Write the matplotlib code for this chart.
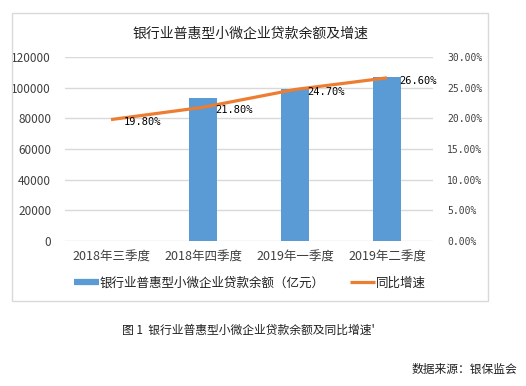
import numpy as np
import matplotlib
matplotlib.use("Agg")
import matplotlib.pyplot as plt
from matplotlib.lines import Line2D
from matplotlib.patches import Rectangle

plt.rcParams['font.family'] = ['Noto Sans CJK SC', 'DejaVu Sans']

# data
quarters = ['2018年三季度', '2018年四季度', '2019年一季度', '2019年二季度']
balance = [np.nan, 93300, 99200, 106700]   # 亿元, first quarter has no bar
growth = [19.8, 21.8, 24.7, 26.6]          # %
left_ticks = [0, 20000, 40000, 60000, 80000, 100000, 120000]
right_ticks = [0, 5, 10, 15, 20, 25, 30]

bar_color = '#5B9BD5'
line_color = '#ED7D31'
grid_color = '#D9D9D9'
text_color = '#404040'

fig = plt.figure(figsize=(5.26, 3.86), dpi=100)

# outer chart frame
fig.patches.append(Rectangle((12 / 526, 1 - 301 / 386), 476 / 526, 288 / 386,
                             transform=fig.transFigure, fill=False,
                             edgecolor=grid_color, linewidth=1))

ax = fig.add_axes([65 / 526, 145 / 386, 368 / 526, 184 / 386])
x = np.arange(len(quarters))
ax.bar(x, balance, width=0.31, color=bar_color, zorder=2)
ax.set_xlim(-0.5, len(quarters) - 0.5)
ax.set_ylim(0, 120000)
ax.set_yticks(left_ticks)
ax.set_yticklabels([str(v) for v in left_ticks])
ax.set_xticks(x)
ax.set_xticklabels(quarters)
ax.grid(axis='y', color=grid_color, linewidth=1, zorder=0)
ax.set_axisbelow(True)
for s in ax.spines.values():
    s.set_visible(False)
ax.tick_params(axis='both', length=0, labelsize=8.5, colors=text_color)
ax.tick_params(axis='y', pad=10)
ax.tick_params(axis='x', pad=7, labelsize=9)

ax2 = ax.twinx()
ax2.plot(x, growth, color=line_color, linewidth=2.3, solid_capstyle='butt', zorder=3)
ax2.set_ylim(0, 30)
ax2.set_yticks(right_ticks)
ax2.set_yticklabels(['%.2f%%' % v for v in right_ticks], family='DejaVu Sans Mono')
for s in ax2.spines.values():
    s.set_visible(False)
ax2.tick_params(axis='y', length=0, labelsize=7, pad=10, colors=text_color)

for xi, g in zip(x, growth):
    ax2.annotate('%.2f%%' % g, (xi, g), xytext=(9, -2), textcoords='offset points',
                 ha='left', va='center', fontsize=7.5, family='DejaVu Sans Mono',
                 color='#000000', zorder=4)

fig.text(250 / 526, 1 - 34 / 386, '银行业普惠型小微企业贷款余额及增速', ha='center', va='center',
         fontsize=10, color='#202020')

handles = [Line2D([], [], color=bar_color, linewidth=4.5, solid_capstyle='butt'),
           Line2D([], [], color=line_color, linewidth=2.3, solid_capstyle='butt')]
fig.legend(handles, ['银行业普惠型小微企业贷款余额（亿元）', '同比增速'],
           loc='center', bbox_to_anchor=(250 / 526, 1 - 283 / 386), ncol=2,
           frameon=False, fontsize=9, handlelength=2.0, handletextpad=0.1,
           columnspacing=2.0, labelcolor='#202020')

fig.text(248 / 526, 1 - 330 / 386, '图 1  银行业普惠型小微企业贷款余额及同比增速\'', ha='center',
         va='center', fontsize=8.5, color='#202020')
fig.text(517 / 526, 1 - 369 / 386, '数据来源：银保监会', ha='right', va='center',
         fontsize=8.5, color='#202020')

fig.savefig('out.png', dpi=100)
